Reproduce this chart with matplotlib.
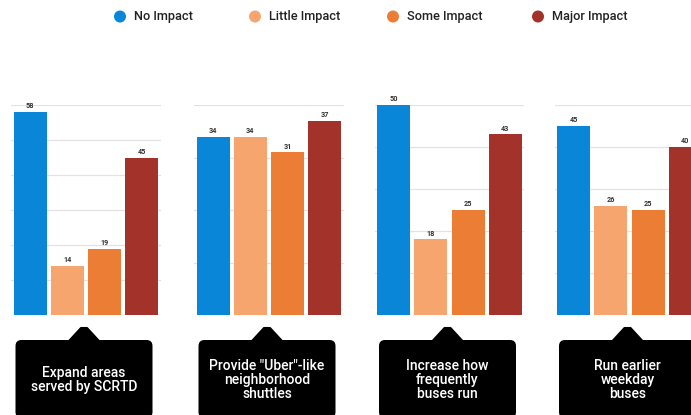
import matplotlib
matplotlib.use("Agg")
import matplotlib.pyplot as plt
from matplotlib.patches import FancyBboxPatch, Polygon, Circle

plt.rcParams['font.family'] = ['Roboto', 'DejaVu Sans']

# Survey results: share of respondents per impact level for each improvement
impact_levels = ["No Impact", "Little Impact", "Some Impact", "Major Impact"]
improvements = [
    "Expand areas\nserved by SCRTD",
    "Provide \"Uber\"-like\nneighborhood\nshuttles",
    "Increase how\nfrequently\nbuses run",
    "Run earlier\nweekday\nbuses",
]
expand_areas = [58, 14, 19, 45]
uber_shuttles = [34, 34, 31, 37]
bus_frequency = [50, 18, 25, 43]
earlier_buses = [45, 26, 25, 40]
series = [expand_areas, uber_shuttles, bus_frequency, earlier_buses]
y_max = [60, 40, 50, 50]

colors = ["#0A86D8", "#F7A56E", "#EC7D35", "#A3322A"]

W, H = 691, 415
fig = plt.figure(figsize=(W / 100, H / 100), dpi=100)

# overlay in pixel coordinates for legend and callouts
ov = fig.add_axes([0, 0, 1, 1], zorder=0)
ov.set_xlim(0, W)
ov.set_ylim(H, 0)
ov.axis("off")

centers = [86, 269, 449.5, 629.5]
unit_px = 37.3
ax_w = 4 * unit_px
ax_bottom, ax_top = 315, 105

for i, vals in enumerate(series):
    left = centers[i] - ax_w / 2
    ax = fig.add_axes([left / W, (H - ax_bottom) / H, ax_w / W,
                       (ax_bottom - ax_top) / H], zorder=1)
    ax.patch.set_alpha(0)
    x = range(len(vals))
    bars = ax.bar(x, vals, width=0.885, color=colors, zorder=2)
    for b, v in zip(bars, vals):
        ax.text(b.get_x() + b.get_width() / 2, v + y_max[i] * 0.008, str(v),
                ha="center", va="bottom", fontsize=5.2, fontweight="bold",
                color="#333333")
    ax.set_xlim(-0.5, 3.5)
    ax.set_ylim(0, y_max[i])
    ax.set_yticks(range(10, y_max[i] + 1, 10))
    ax.yaxis.grid(True, color="#e2e2e2", linewidth=0.9, zorder=0)
    ax.set_axisbelow(True)
    ax.tick_params(left=False, bottom=False, labelleft=False, labelbottom=False)
    for s in ax.spines.values():
        s.set_visible(False)

    # callout box with pointer
    cx = centers[i] - 2
    bw = 137
    box = FancyBboxPatch((cx - bw / 2, 340), bw, 78,
                         boxstyle="round,pad=0,rounding_size=6",
                         facecolor="black", edgecolor="none")
    ov.add_patch(box)
    tri = Polygon([(cx - 15, 341), (cx - 3, 328), (cx + 3, 328), (cx + 15, 341)],
                  closed=True, facecolor="black", edgecolor="black",
                  linewidth=1.5, joinstyle="round")
    ov.add_patch(tri)
    ov.text(cx, 380, improvements[i], ha="center", va="center", color="white",
            fontsize=10, fontweight="medium", linespacing=1.02)

# legend
legend_x = [120, 255, 393, 538]
for lx, lab, c in zip(legend_x, impact_levels, colors):
    ov.add_patch(Circle((lx, 16.5), 6, facecolor=c, edgecolor="none"))
    ov.text(lx + 14, 16.5, lab, ha="left", va="center", fontsize=9.2,
            fontweight="medium", color="#222222")

fig.savefig("out.png", dpi=100)
